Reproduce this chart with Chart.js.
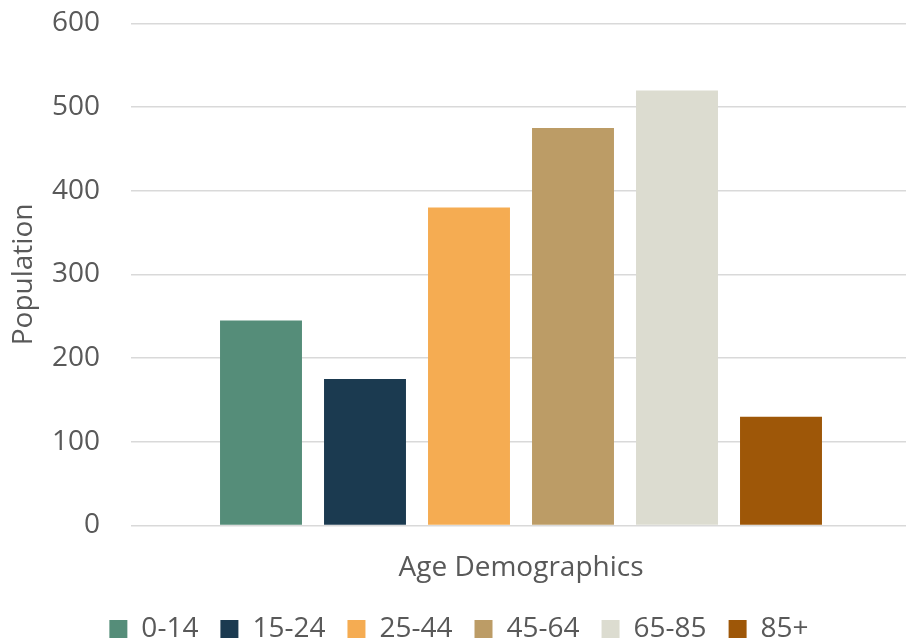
<!DOCTYPE html>
<html>
<head>
<meta charset="utf-8">
<script src="https://cdn.jsdelivr.net/npm/chart.js@4"></script>
<style>
  html, body { margin: 0; padding: 0; background: #fff; }
  #wrap { width: 906px; height: 643px; }
</style>
</head>
<body>
<div id="wrap"><canvas id="myChart" width="906" height="643"></canvas></div>
<script>
const category = ["Age Demographics"];
const ageGroups = ["0-14", "15-24", "25-44", "45-64", "65-85", "85+"];
const population = [245, 175, 380, 475, 520, 130];
const barColors = ["#558D79", "#1B3A50", "#F5AC52", "#BC9C66", "#DCDCD0", "#9E5708"];

const textColor = "#595959";
const gridColor = "#D9D9D9";
const font = { family: "'Open Sans', sans-serif", size: 28 };

const datasets = ageGroups.map((name, i) => {
  return {
    label: name,
    data: [population[i]],
    backgroundColor: barColors[i],
    categoryPercentage: 0.8,
    barPercentage: 0.788,
  };
});

// plot area runs a few px past the right edge, legend sits a bit right of centre
const nudge = {
  id: "nudge",
  afterLayout(chart) {
    const x = chart.scales.x;
    x.right += 5;
    x.width += 5;
    x.configure();
    chart.legend.left += 6;
    chart.legend.right += 6;
  },
};

const ctx = document.getElementById("myChart").getContext("2d");

var chart = new Chart(ctx, {
  type: "bar",
  data: {
    labels: category,
    datasets: datasets,
  },
  plugins: [nudge],
  options: {
    responsive: false,
    animation: false,
    layout: {
      padding: { top: 23.5, right: 0, bottom: -10, left: 0 },
    },
    plugins: {
      tooltip: { enabled: false },
      legend: {
        position: "bottom",
        labels: {
          color: textColor,
          font: font,
          boxWidth: 18,
          boxHeight: 18,
          padding: 22,
        },
      },
    },
    scales: {
      x: {
        grid: { display: false, drawTicks: false },
        border: { display: false },
        ticks: { color: textColor, font: font, padding: 26 },
        afterFit: (scale) => {
          // pull the legend up closer to the category label
          scale.height = scale.height - 18;
        },
      },
      y: {
        min: 0,
        max: 600,
        ticks: { stepSize: 100, color: textColor, font: font, padding: 0 },
        grid: {
          color: gridColor,
          lineWidth: 1.5,
          drawTicks: true,
          tickLength: 31,
          tickColor: "rgba(0,0,0,0)",
        },
        border: { display: false },
        title: {
          display: true,
          text: "Population",
          color: textColor,
          font: font,
          padding: { top: 7, bottom: 0 },
        },
        afterFit: (scale) => {
          scale.width = 131;
        },
      },
    },
  },
});
</script>
</body>
</html>
